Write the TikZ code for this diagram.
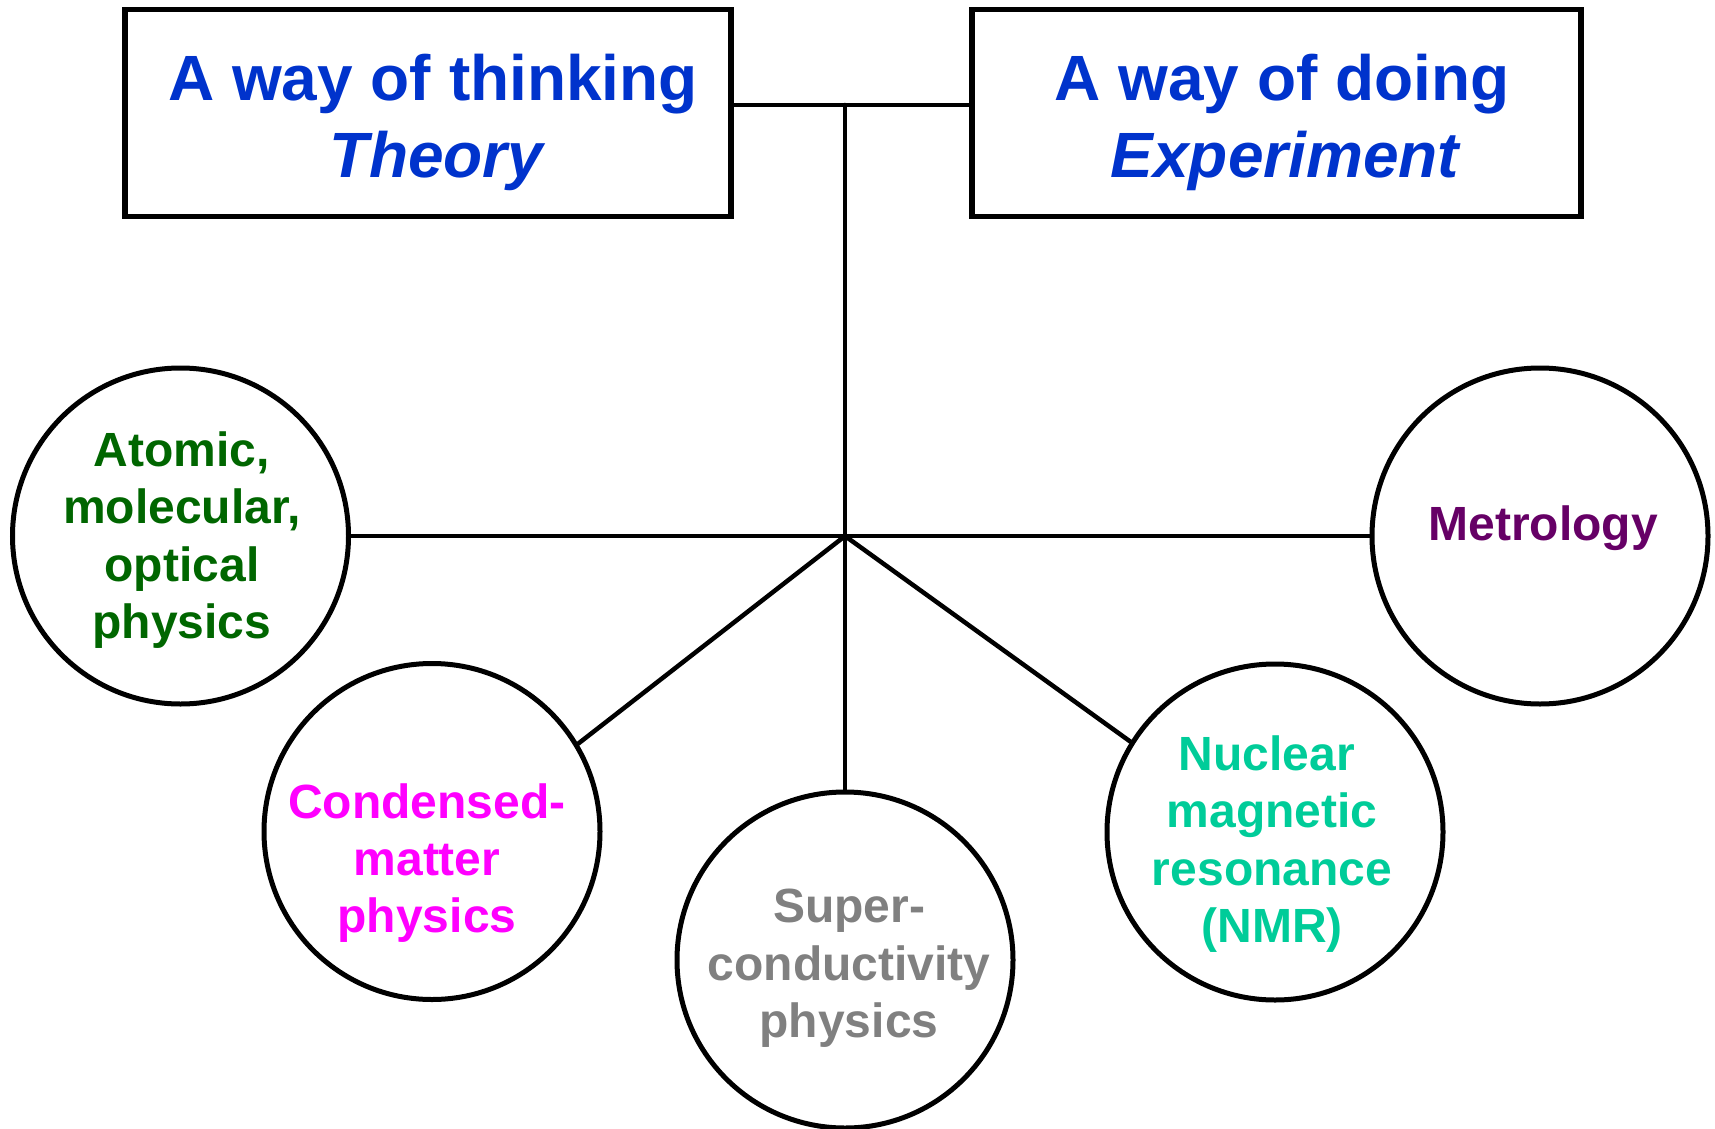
\documentclass[tikz,border=0pt]{standalone}
\usepackage{fontspec}
\setmainfont{Liberation Sans}
\definecolor{titleblue}{HTML}{0033CC}
\definecolor{amogreen}{HTML}{006600}
\definecolor{cmmagenta}{HTML}{FF00FF}
\definecolor{scgray}{HTML}{808080}
\definecolor{nmrteal}{HTML}{00CC99}
\definecolor{metpurple}{HTML}{660066}
\begin{document}
\begin{tikzpicture}[x=1pt,y=-1pt,
  box/.style={draw=black,line width=5.5pt,rectangle,inner sep=0pt},
  topic/.style={draw=black,line width=5pt,circle,inner sep=0pt,minimum size=336pt},
  conn/.style={draw=black,line width=4.5pt,line cap=round},
  titletext/.style={anchor=north,inner sep=0pt,align=center,text=titleblue,
    font=\fontsize{64}{76.7}\selectfont\bfseries},
  topictext/.style={anchor=north,inner sep=0pt,align=center,
    font=\fontsize{48}{57.3}\selectfont\bfseries}]
\useasboundingbox (0,0) rectangle (1715,1129);

% boxes
\node[box,minimum width=606pt,minimum height=207pt] (theory) at (428,113) {};
\node[box,minimum width=609pt,minimum height=207pt] (experiment) at (1276.5,113) {};
\node[titletext] (theorytext) at (433,54.2) {A way of thinking\\\hspace*{10pt}\textit{Theory}};
\node[titletext] (experimenttext) at (1282,54.2) {A way of doing\\\hspace*{8pt}\textit{Experiment}};

% circles
\node[topic] (amo) at (180.5,536) {};
\node[topic] (cm) at (432,831.5) {};
\node[topic] (sc) at (845,960) {};
\node[topic] (nmr) at (1275,832) {};
\node[topic] (met) at (1540,536) {};

\node[topictext,text=amogreen] (amotext) at (182,431.6) {Atomic,\\molecular,\\optical\\physics};
\node[topictext,text=cmmagenta] (cmtext) at (427,783.3) {Condensed-\\matter\\physics};
\node[topictext,text=scgray] (sctext) at (849,889) {Super-\\conductivity\\physics};
\node[topictext,text=nmrteal] (nmrtext) at (1272,735.6) {Nuclear\hspace*{10pt}\\magnetic\\resonance\\(NMR)};
\node[topictext,text=metpurple] (mettext) at (1543,505.6) {Metrology};

% connectors
\coordinate (top) at (845,105);
\coordinate (hub) at (845,536);
\draw[conn] ([yshift=8pt]theory.east) -- ([yshift=8pt]experiment.west);
\draw[conn] (top) -- (hub);
\draw[conn] (amo.east) -- (met.west);
\draw[conn] (hub) -- (cm.31);
\draw[conn] (hub) -- (sc.north);
\draw[conn] (hub) -- (nmr.148.5);
\end{tikzpicture}
\end{document}
